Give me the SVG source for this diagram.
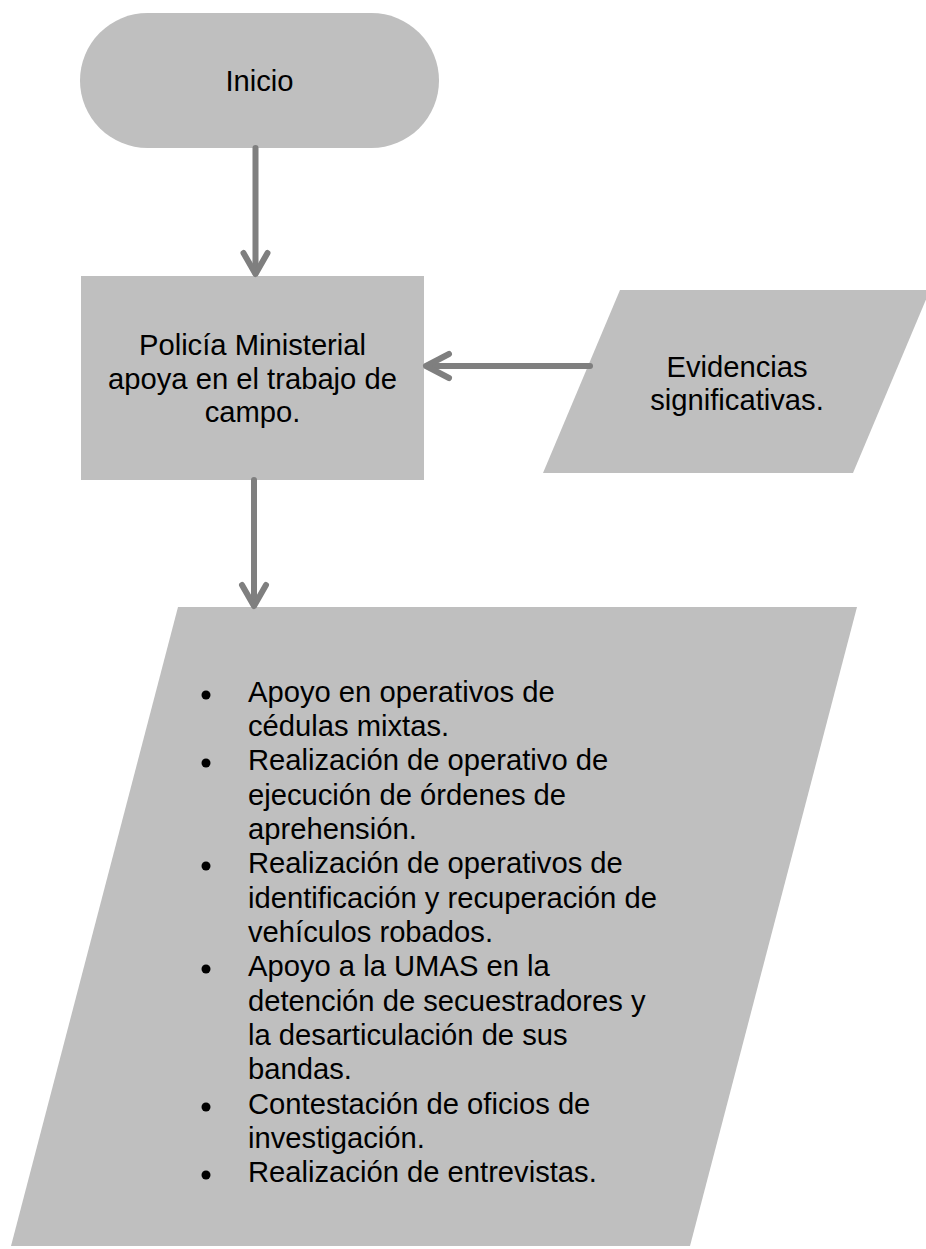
<svg xmlns="http://www.w3.org/2000/svg" width="926" height="1249" viewBox="0 0 926 1249">
<style>
.shape{fill:#bfbfbf;}
.t{font-family:"Liberation Sans",Arial,sans-serif;font-size:29.2px;fill:#000;}
.c{text-anchor:middle;}
.conn{stroke:#7f7f7f;stroke-width:6;fill:none;stroke-linecap:round;stroke-linejoin:round;}
</style>
<rect width="926" height="1249" fill="#fff"/>
<g id="inicio">
<rect class="shape" x="80" y="13" width="359" height="135" rx="67.5" ry="67.5"/>
<text class="t c" x="259.5" y="91">Inicio</text>
</g>
<g id="policia">
<rect class="shape" x="81" y="276" width="343" height="204"/>
<text class="t c" x="252.5" y="355">Policía Ministerial</text>
<text class="t c" x="252.5" y="389">apoya en el trabajo de</text>
<text class="t c" x="252.5" y="422">campo.</text>
</g>
<g id="evidencias">
<polygon class="shape" points="620,290 930,290 853,473 543,473"/>
<text class="t c" x="737" y="377">Evidencias</text>
<text class="t c" x="737" y="410">significativas.</text>
</g>
<g id="actividades">
<polygon class="shape" points="178,607 857,607 690,1246 11,1246"/>
<g class="t">
<text x="248" y="702">Apoyo en operativos de</text>
<text x="248" y="736">cédulas mixtas.</text>
<text x="248" y="770">Realización de operativo de</text>
<text x="248" y="805">ejecución de órdenes de</text>
<text x="248" y="839">aprehensión.</text>
<text x="248" y="873">Realización de operativos de</text>
<text x="248" y="908">identificación y recuperación de</text>
<text x="248" y="942">vehículos robados.</text>
<text x="248" y="976">Apoyo a la UMAS en la</text>
<text x="248" y="1011">detención de secuestradores y</text>
<text x="248" y="1045">la desarticulación de sus</text>
<text x="248" y="1079">bandas.</text>
<text x="248" y="1114">Contestación de oficios de</text>
<text x="248" y="1148">investigación.</text>
<text x="248" y="1182">Realización de entrevistas.</text>
</g>
<g fill="#000">
<circle cx="206" cy="695" r="4.5"/>
<circle cx="206" cy="763" r="4.5"/>
<circle cx="206" cy="866" r="4.5"/>
<circle cx="206" cy="969" r="4.5"/>
<circle cx="206" cy="1107" r="4.5"/>
<circle cx="206" cy="1175" r="4.5"/>
</g>
</g>
<g id="connectors" class="conn">
<path d="M255.5,148 V273"/>
<path d="M243.5,253 L255.5,274 L267.5,253"/>
<path d="M590,366 H427"/>
<path d="M449,354 L426,366 L449,378"/>
<path d="M254,480 V605"/>
<path d="M242,585 L254,606 L266,585"/>
</g>
</svg>
